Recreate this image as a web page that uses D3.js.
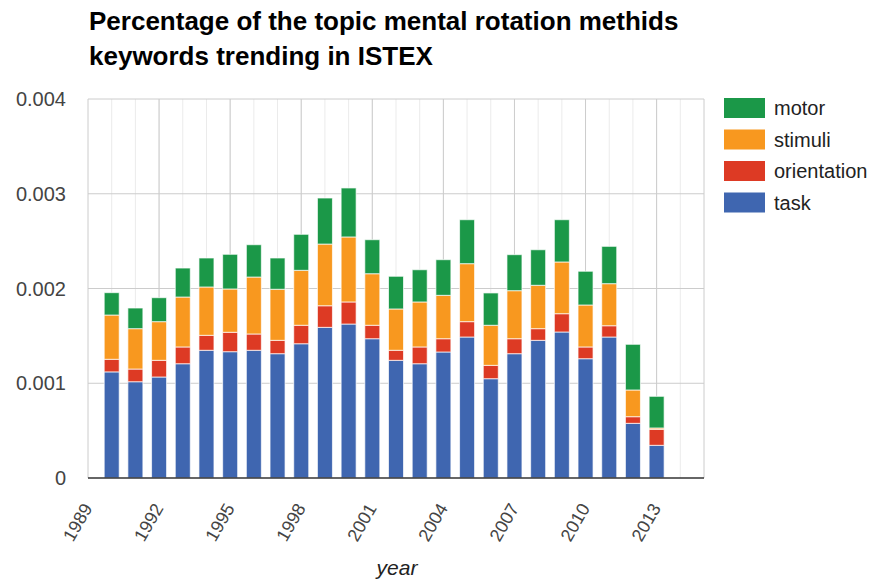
<!DOCTYPE html>
<html>
<head>
<meta charset="utf-8">
<script src="https://cdn.jsdelivr.net/npm/d3@7"></script>
<style>
  body { margin: 0; background: #fff; }
  svg { font-family: "Liberation Sans", Arial, sans-serif; }
</style>
</head>
<body>
<svg id="chart" width="874" height="585"></svg>
<script>
// data
const years = [1990,1991,1992,1993,1994,1995,1996,1997,1998,1999,2000,2001,
               2002,2003,2004,2005,2006,2007,2008,2009,2010,2011,2012,2013];
const task = [0.001120,0.001016,0.001066,0.001206,0.001348,0.001333,0.001348,0.001312,
              0.001417,0.001590,0.001625,0.001470,0.001242,0.001206,0.001330,0.001488,
              0.001048,0.001312,0.001453,0.001541,0.001259,0.001488,0.000577,0.000345];
const orientation = [0.000133,0.000134,0.000176,0.000177,0.000158,0.000205,0.000172,0.000141,
                     0.000195,0.000228,0.000233,0.000142,0.000106,0.000177,0.000140,0.000162,
                     0.000141,0.000158,0.000123,0.000193,0.000124,0.000119,0.000070,0.000169];
const stimuli = [0.000467,0.000426,0.000408,0.000527,0.000510,0.000457,0.000601,0.000539,
                 0.000580,0.000651,0.000686,0.000544,0.000436,0.000475,0.000458,0.000612,
                 0.000423,0.000507,0.000458,0.000546,0.000443,0.000444,0.000282,0.000014];
const motor = [0.000236,0.000218,0.000253,0.000306,0.000306,0.000366,0.000341,0.000330,
               0.000380,0.000486,0.000517,0.000359,0.000345,0.000340,0.000376,0.000464,
               0.000341,0.000380,0.000375,0.000446,0.000356,0.000394,0.000482,0.000334];
const seriesNames = ["task","orientation","stimuli","motor"];
const colors = ["#3f66b0","#dd3a24","#f8981f","#1b9848"];
const yTicks = [0,0.001,0.002,0.003,0.004];
const xTicks = [1989,1992,1995,1998,2001,2004,2007,2010,2013];

const svg = d3.select("#chart");
const plotLeft = 88, plotRight = 704, plotTop = 99, plotBottom = 478;

const x = d3.scaleLinear().domain([1989, 2015]).range([plotLeft, plotRight]);
const y = d3.scaleLinear().domain([0, 0.004]).range([plotBottom, plotTop]);
const barW = 15;

// minor vertical grid (every year)
svg.append("g").selectAll("line")
  .data(d3.range(1990, 2015))
  .join("line")
  .attr("x1", d => x(d)).attr("x2", d => x(d))
  .attr("y1", plotTop).attr("y2", plotBottom)
  .attr("stroke", "#ebebeb").attr("stroke-width", 1);

// major vertical grid
svg.append("g").selectAll("line")
  .data(xTicks.concat([2015]))
  .join("line")
  .attr("x1", d => x(d)).attr("x2", d => x(d))
  .attr("y1", plotTop).attr("y2", plotBottom)
  .attr("stroke", "#cccccc").attr("stroke-width", 1);

// horizontal grid
svg.append("g").selectAll("line")
  .data(yTicks.slice(1))
  .join("line")
  .attr("x1", plotLeft).attr("x2", plotRight)
  .attr("y1", d => y(d)).attr("y2", d => y(d))
  .attr("stroke", "#cccccc").attr("stroke-width", 1);

// stacked bars
const rows = years.map((yr, i) => ({year: yr, task: task[i], orientation: orientation[i],
                                    stimuli: stimuli[i], motor: motor[i]}));
const stacked = d3.stack().keys(seriesNames)(rows);

svg.append("g").selectAll("g")
  .data(stacked)
  .join("g")
  .attr("fill", (d, i) => colors[i])
  .selectAll("rect")
  .data(d => d)
  .join("rect")
  .attr("x", d => x(d.data.year) - barW / 2)
  .attr("width", barW)
  .attr("y", d => y(d[1]))
  .attr("height", d => y(d[0]) - y(d[1]))
  .attr("stroke", "#ffffff").attr("stroke-opacity", 0.7).attr("stroke-width", 1);

// baseline
svg.append("line")
  .attr("x1", plotLeft).attr("x2", plotRight)
  .attr("y1", y(0)).attr("y2", y(0))
  .attr("stroke", "#333").attr("stroke-width", 1.5);

// y tick labels
svg.append("g").selectAll("text")
  .data(yTicks)
  .join("text")
  .attr("x", 66).attr("y", d => y(d) + 7)
  .attr("text-anchor", "end")
  .attr("font-size", 20)
  .attr("fill", "#444")
  .text(d => d === 0 ? "0" : d3.format(".3f")(d));

// x tick labels, rotated
svg.append("g").selectAll("text")
  .data(xTicks)
  .join("text")
  .attr("transform", d => `translate(${x(d) + 5},508) rotate(-60)`)
  .attr("text-anchor", "end")
  .attr("font-size", 18)
  .attr("fill", "#444")
  .text(d => d);

// axis title
svg.append("text")
  .attr("x", 397).attr("y", 575)
  .attr("text-anchor", "middle")
  .attr("font-size", 21).attr("font-style", "italic")
  .attr("fill", "#222")
  .text("year");

// title
const title = svg.append("text")
  .attr("x", 89).attr("y", 30)
  .attr("font-size", 26).attr("font-weight", "bold")
  .attr("fill", "#000");
title.append("tspan").attr("x", 89).text("Percentage of the topic mental rotation methids");
title.append("tspan").attr("x", 89).attr("dy", 35).text("keywords trending in ISTEX");

// legend (top to bottom: motor, stimuli, orientation, task)
const legendOrder = [3, 2, 1, 0];
const lg = svg.append("g").selectAll("g")
  .data(legendOrder)
  .join("g")
  .attr("transform", (d, i) => `translate(724,${98 + i * 31.5})`);
lg.append("rect")
  .attr("width", 41).attr("height", 20)
  .attr("fill", d => colors[d]);
lg.append("text")
  .attr("x", 50).attr("y", 17)
  .attr("font-size", 20)
  .attr("fill", "#222")
  .text(d => seriesNames[d]);
</script>
</body>
</html>
